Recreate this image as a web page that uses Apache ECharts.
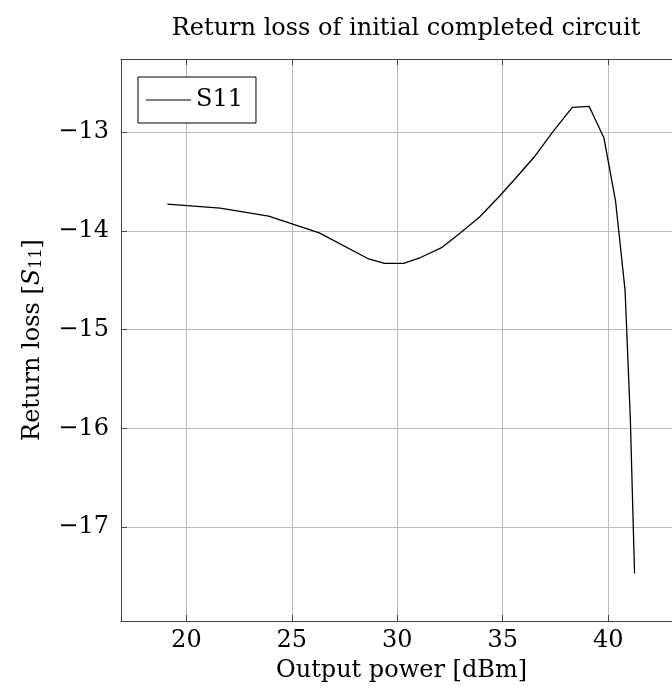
<!DOCTYPE html>
<html>
<head>
<meta charset="utf-8">
<style>
  html, body { margin: 0; padding: 0; background: #fff; }
  #chart { width: 672px; height: 699px; }
</style>
<script src="https://cdn.jsdelivr.net/npm/echarts@6/dist/echarts.min.js"></script>
</head>
<body>
<div id="chart"></div>
<script>
// output power [dBm] and S11
var outputPower = [19.1, 21.6, 23.9, 26.3, 28.6, 29.4, 30.3, 31.1, 32.1, 33.0, 33.9, 34.8,
    35.6, 36.5, 37.4, 38.3, 39.1, 39.8, 40.35, 40.8, 41.05, 41.25];
var s11 = [-13.73, -13.77, -13.85, -14.02, -14.28, -14.33, -14.33, -14.27, -14.17, -14.02, -13.86, -13.66,
    -13.47, -13.25, -12.99, -12.75, -12.74, -13.06, -13.70, -14.60, -15.90, -17.47];
var xTicks = [20, 25, 30, 35, 40];
var yTicks = [-17, -16, -15, -14, -13];

var serif = 'DejaVu Serif';
var points = outputPower.map(function (x, i) { return [x, s11[i]]; });

var myChart = echarts.init(document.getElementById('chart'));
var axisLine = { show: true, onZero: false, lineStyle: { color: '#444', width: 1 } };
var tick = { show: true, inside: true, length: 6, lineStyle: { color: '#444' } };
var grid = { show: true, lineStyle: { color: '#bdbdbd', width: 1 } };

var option = {
    backgroundColor: '#fff',
    animation: false,
    title: {
        text: 'Return loss of initial completed circuit',
        left: 401,
        top: 12,
        textAlign: 'center',
        textStyle: { fontFamily: serif, fontSize: 24, fontWeight: 'normal', color: '#000' }
    },
    legend: {
        left: 138,
        top: 77,
        orient: 'vertical',
        data: ['S11'],
        icon: 'rect',
        itemWidth: 45,
        itemHeight: 1,
        itemGap: 0,
        padding: [10, 13, 10, 8],
        borderColor: '#000',
        borderWidth: 1,
        backgroundColor: '#fff',
        textStyle: { fontFamily: serif, fontSize: 24, color: '#000', lineHeight: 26 }
    },
    grid: {
        left: 121,
        top: 59,
        right: -10,
        bottom: 78,
        outerBoundsMode: 'none'
    },
    xAxis: [
        {
            type: 'value',
            min: 16.9,
            max: 43.5,
            name: 'Output power [dBm]',
            nameLocation: 'middle',
            nameGap: 38,
            nameTextStyle: { fontFamily: serif, fontSize: 24, color: '#000' },
            axisLine: axisLine,
            axisTick: Object.assign({ customValues: xTicks }, tick),
            axisLabel: {
                customValues: xTicks,
                margin: 8,
                fontFamily: serif, fontSize: 24, color: '#000'
            },
            splitLine: grid
        },
        {
            type: 'value',
            position: 'top',
            min: 16.9,
            max: 43.5,
            axisLine: axisLine,
            axisTick: Object.assign({ customValues: xTicks }, tick),
            axisLabel: { show: false },
            splitLine: { show: false }
        }
    ],
    yAxis: [
        {
            type: 'value',
            min: -17.95,
            max: -12.26,
            name: '{n|Return loss [}{i|S}{s|11}{n|]}',
            nameLocation: 'middle',
            nameGap: 76,
            nameRotate: 90,
            nameTextStyle: {
                fontFamily: serif, fontSize: 24, color: '#000',
                rich: {
                    n: { fontFamily: serif, fontSize: 24, color: '#000', lineHeight: 30, verticalAlign: 'bottom' },
                    i: { fontFamily: serif, fontSize: 24, color: '#000', fontStyle: 'italic', lineHeight: 30, verticalAlign: 'bottom' },
                    s: { fontFamily: serif, fontSize: 16, color: '#000', lineHeight: 30, verticalAlign: 'bottom', padding: [0, 0, 0, 0] }
                }
            },
            axisLine: axisLine,
            axisTick: Object.assign({ customValues: yTicks }, tick),
            axisLabel: {
                customValues: yTicks,
                margin: 12,
                fontFamily: serif, fontSize: 24, color: '#000',
                formatter: function (v) { return String(v).replace('-', '\u2212'); }
            },
            splitLine: grid
        }
    ],
    series: [
        {
            type: 'line',
            name: 'S11',
            data: points,
            symbol: 'none',
            lineStyle: { color: '#000', width: 1.3 },
            itemStyle: { color: '#000' }
        }
    ]
};

myChart.setOption(option);
</script>
</body>
</html>
